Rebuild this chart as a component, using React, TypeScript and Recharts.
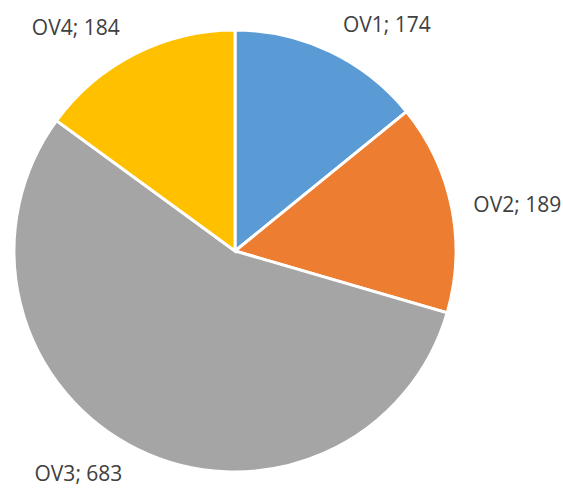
import React from "react";
import { PieChart, Pie, Cell } from "recharts";

const names = ["OV1", "OV2", "OV3", "OV4"];
const values = [174, 189, 683, 184];
const colors = ["#5B9BD5", "#ED7D31", "#A5A5A5", "#FFC000"];

const data = names.map((name, i) => ({ name, value: values[i] }));

const RAD = Math.PI / 180;

function renderLabel(props: any) {
  const { cx, cy, midAngle, outerRadius, name, value } = props;
  const cos = Math.cos(-midAngle * RAD);
  const sin = Math.sin(-midAngle * RAD);
  const r = outerRadius + 16;
  const x = cx + r * cos;
  const y = cy + r * sin;
  const anchor = cos > 0.3 ? "start" : cos < -0.3 ? "end" : "middle";
  const baseline = sin < -0.3 ? "auto" : sin > 0.3 ? "hanging" : "central";
  const dx = cos > 0.3 ? 6 : cos < -0.3 ? -8 : 0;
  return (
    <text
      x={x + dx}
      y={sin < -0.3 ? y - 5 : y}
      fill="#404040"
      fontSize={21}
      fontFamily="'Open Sans', sans-serif"
      textAnchor={anchor}
      dominantBaseline={baseline}
    >
      {`${name}; ${value}`}
    </text>
  );
}

export default function App() {
  return (
    <div style={{ position: "absolute", left: 0, top: 0, background: "#fff" }}>
      <PieChart
        width={563}
        height={488}
        margin={{ top: 0, right: 0, bottom: 0, left: 0 }}
      >
        <Pie
          data={data}
          dataKey="value"
          nameKey="name"
          cx={235}
          cy={251}
          outerRadius={221}
          startAngle={90}
          endAngle={-270}
          stroke="#fff"
          strokeWidth={3}
          label={renderLabel}
          labelLine={false}
          isAnimationActive={false}
        >
          {data.map((d, i) => (
            <Cell key={d.name} fill={colors[i]} />
          ))}
        </Pie>
      </PieChart>
    </div>
  );
}
